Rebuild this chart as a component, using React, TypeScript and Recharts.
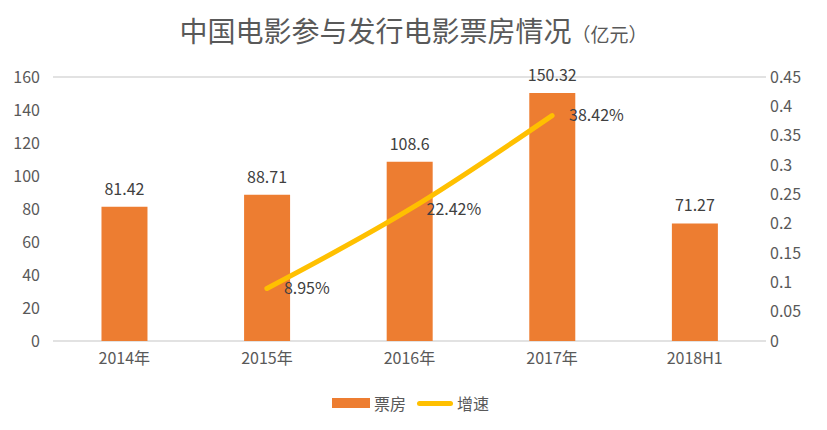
import React from 'react';
import { ComposedChart, Bar, Line, XAxis, YAxis, CartesianGrid, LabelList, Legend } from 'recharts';

const categories = ['2014年', '2015年', '2016年', '2017年', '2018H1'];
const boxOffice = [81.42, 88.71, 108.6, 150.32, 71.27];
const growth = [null, 0.0895, 0.2242, 0.3842, null];
const leftTicks = [0, 20, 40, 60, 80, 100, 120, 140, 160];
const rightTicks = [0, 0.05, 0.1, 0.15, 0.2, 0.25, 0.3, 0.35, 0.4, 0.45];

const data = categories.map((name, i) => ({ name, boxOffice: boxOffice[i], growth: growth[i] }));

const FONT = '"Noto Sans CJK SC", sans-serif';
const tickStyle = { fill: '#595959', fontSize: 16, fontFamily: FONT };

const LegendContent = () => (
    <div style={{ display: 'flex', justifyContent: 'center', alignItems: 'center', fontFamily: FONT, fontSize: 16, color: '#595959', marginLeft: -6 }}>
        <span style={{ display: 'inline-block', width: 38, height: 10, background: '#ED7D31', marginRight: 4 }} />
        <span style={{ marginRight: 11 }}>票房</span>
        <span style={{ display: 'inline-block', width: 36, height: 5, borderRadius: 3, background: '#FFC000', marginRight: 4 }} />
        <span>增速</span>
    </div>
);

const App = () => {
    return (
        <div style={{ position: 'absolute', left: 0, top: 0, width: 827, height: 430, background: '#fff' }}>
            <div style={{ position: 'absolute', top: 10, left: 0, width: 827, textAlign: 'center', fontFamily: FONT, color: '#595959' }}>
                <span style={{ fontSize: 28 }}>中国电影参与发行电影票房情况</span>
                <span style={{ fontSize: 19 }}>（亿元）</span>
            </div>
            <ComposedChart width={827} height={430} data={data} margin={{ top: 77, right: 0, left: 0, bottom: 0 }} barCategoryGap="34%">
                <CartesianGrid vertical={false} stroke="#D9D9D9" strokeWidth={1.5} />
                <XAxis dataKey="name" axisLine={false} tickLine={false} tick={tickStyle} height={40} tickMargin={6} />
                <YAxis yAxisId="left" domain={[0, 160]} ticks={leftTicks} axisLine={false} tickLine={false} tick={tickStyle} width={53} tickMargin={7} />
                <YAxis yAxisId="right" orientation="right" domain={[0, 0.45]} ticks={rightTicks} axisLine={false} tickLine={false} tick={tickStyle} width={61} tickMargin={-2} />
                <Legend verticalAlign="bottom" content={<LegendContent />} wrapperStyle={{ height: 39, paddingTop: 10 }} />
                <Bar yAxisId="left" dataKey="boxOffice" name="票房" fill="#ED7D31" isAnimationActive={false}>
                    <LabelList dataKey="boxOffice" position="top" offset={12} fill="#404040" fontSize={16} fontFamily={FONT} />
                </Bar>
                <Line yAxisId="right" dataKey="growth" name="增速" type="natural" stroke="#FFC000" strokeWidth={5} strokeLinecap="round" dot={false} activeDot={false} isAnimationActive={false}>
                    <LabelList dataKey="growth" position="right" offset={17} fill="#404040" fontSize={16} fontFamily={FONT}
                        formatter={(v: any) => (v == null ? '' : (v * 100).toFixed(2) + '%')} />
                </Line>
            </ComposedChart>
        </div>
    );
};

export default App;
